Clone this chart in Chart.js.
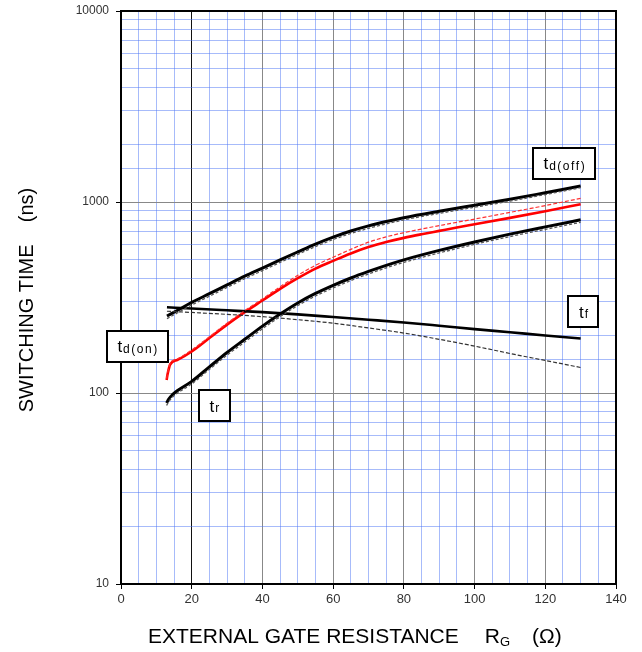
<!DOCTYPE html>
<html><head><meta charset="utf-8">
<script src="https://cdn.jsdelivr.net/npm/chart.js@4.4.1/dist/chart.umd.min.js"></script>
<style>html,body{margin:0;padding:0;background:#fff}canvas{display:block}</style>
</head><body>
<canvas id="c" width="642" height="652"></canvas>
<script>
// ---- data ----
const tdOffX = [13,16,20,25,30,35,40,45,50,55,60,65,70,75,80,90,100,110,120,130];
const tdOffSolid = [253,271,298,331,368,409,451,498,548,602,655,705,750,790,828,895,962,1033,1118,1212];
const tdOffDash  = [245,263,289,321,357,397,437,483,532,584,636,684,728,768,806,872,939,1010,1094,1188];

const tdOnX = [12.9,13.2,13.9,16,20,25,30,35,40,45,50,55,60,65,70,75,80,85,90,95,100,110,120,130];
const tdOnSolid = [117,126,141,149,165,194,228,265,305,351,399,448,492,538,581,617,649,678,706,735,764,826,895,973];
const tdOnDashX = [12.9,13.2,13.9,16,20,25,30,35,40,45,50,55,60,65,70,75,80,85,90,95,100,110,120,130];
const tdOnDash  = [119,128,143,151,168,197,232,270,311,360,413,466,514,565,616,657,691,722,752,783,814,882,958,1045];

const trX = [12.9,13.5,14.5,16,20,25,30,35,40,45,50,55,60,65,70,75,80,90,100,110,120,130];
const trSolid = [88.7,93,97.7,103,115,137,163,191,224,259,296,332,366,400,433,466,498,558,618,679,741,807];
const trDash  = [86,90.2,94.8,100,111.5,133,158,185,217,251,287,322,355,388,420,452,483,541,600,659,719,783];

const tfX = [13,20,30,40,50,60,70,80,90,100,110,120,130];
const tfSolid = [281,277,271,265,258,250,242,234,225,216,208,200,193];
const tfDash  = [268,264,258,251,242,232,219,206,191,176,161,148,136];

const xTickLabels = [0,20,40,60,80,100,120,140];
const yTickLabels = [10,100,1000,10000];

// curve labels: main letter, subscript, anchor in data units
const labelMain = ['t','t','t','t'];
const labelSub  = ['d(off)','d(on)','r','f'];
const labelX    = [125.3, 4.6, 26.4, 130.8];
const labelY    = [1591, 176, 86, 267];

// ---- helpers ----
const pts = (xs, ys) => xs.map((x,i)=>({x, y: ys[i]}));
const FONT = "'Liberation Sans', Arial, sans-serif";

const datasets = [
  {data: pts(tdOffX, tdOffDash), borderColor:'#555', borderWidth:1.3, borderDash:[3,2]},
  {data: pts(trX, trDash), borderColor:'#555', borderWidth:1.3, borderDash:[3,2]},
  {data: pts(tfX, tfDash), borderColor:'#333', borderWidth:1.2, borderDash:[4,2]},
  {data: pts(tdOnDashX, tdOnDash), borderColor:'#ff3030', borderWidth:1.2, borderDash:[4,2]},
  {data: pts(tdOffX, tdOffSolid), borderColor:'#000', borderWidth:3},
  {data: pts(trX, trSolid), borderColor:'#000', borderWidth:3},
  {data: pts(tfX, tfSolid), borderColor:'#000', borderWidth:2.6},
  {data: pts(tdOnX, tdOnSolid), borderColor:'#ff0000', borderWidth:2.6},
];

const BLUE = 'rgba(80,120,245,0.5)';
const isMajorLog = v => { const l = Math.log10(v); return Math.abs(l - Math.round(l)) < 1e-9; };

const overlay = {
  id:'overlay',
  afterDatasetsDraw(chart){
    const {ctx, chartArea:a, scales:{x,y}} = chart;
    ctx.save();
    // frame
    ctx.strokeStyle = '#000'; ctx.lineWidth = 2;
    ctx.strokeRect(a.left, a.top, a.right - a.left, a.bottom - a.top);
    // label boxes
    for (let i=0;i<labelMain.length;i++){
      const cx = x.getPixelForValue(labelX[i]);
      const cy = y.getPixelForValue(labelY[i]);
      ctx.font = '17px ' + FONT;
      const mw = ctx.measureText(labelMain[i]).width;
      ctx.font = '12px ' + FONT;
      const chars = labelSub[i].split('');
      const sp = 1.5;
      let sw = 0; chars.forEach(c=> sw += ctx.measureText(c).width + sp); sw -= sp;
      const tw = mw + 1 + sw;
      const w = Math.round(tw + 21), h = 31;
      const bx = Math.round(cx - w/2), by = Math.round(cy - h/2);
      ctx.fillStyle = '#fff';
      ctx.fillRect(bx, by, w, h);
      ctx.strokeStyle = '#000'; ctx.lineWidth = 2;
      ctx.strokeRect(bx, by, w, h);
      ctx.fillStyle = '#000';
      ctx.textBaseline = 'alphabetic'; ctx.textAlign = 'left';
      let tx = cx - tw/2;
      const base = cy + 6;
      ctx.font = '17px ' + FONT;
      ctx.fillText(labelMain[i], tx, base);
      tx += mw + 1;
      ctx.font = '12px ' + FONT;
      chars.forEach(c=>{ ctx.fillText(c, tx, base + 0.5); tx += ctx.measureText(c).width + sp; });
    }
    // axis titles
    ctx.fillStyle = '#000';
    ctx.textBaseline = 'middle';
    // x title
    let px = 148; const py = 637;
    ctx.font = '21px ' + FONT; ctx.textAlign = 'left';
    const t1 = 'EXTERNAL GATE RESISTANCE';
    ctx.fillText(t1, px, py);
    px += ctx.measureText(t1).width + 26;
    ctx.fillText('R', px, py);
    px += ctx.measureText('R').width;
    ctx.font = '13px ' + FONT;
    ctx.fillText('G', px, py + 5);
    px += ctx.measureText('G').width + 22;
    ctx.font = '21px ' + FONT;
    ctx.fillText('(\u03A9)', px, py);
    // y title
    ctx.font = '20px ' + FONT;
    ctx.translate(27, 300);
    ctx.rotate(-Math.PI/2);
    ctx.textAlign = 'center';
    ctx.fillText('SWITCHING TIME    (ns)', 0, 0);
    ctx.restore();
  }
};

new Chart(document.getElementById('c'), {
  type:'line',
  data:{datasets},
  plugins:[overlay],
  options:{
    responsive:false, animation:false,
    layout:{padding:{left:0, right:26, top:11, bottom:0}},
    plugins:{legend:{display:false}, tooltip:{enabled:false}},
    elements:{point:{radius:0}, line:{cubicInterpolationMode:'monotone', fill:false}},
    scales:{
      x:{
        type:'linear', min:0, max:140,
        afterBuildTicks: s => { const t=[]; for(let v=0; v<=140; v+=5) t.push({value:v}); s.ticks = t; },
        ticks:{autoSkip:false, maxRotation:0, padding:3, color:'#333',
          font:{family:FONT, size:13},
          callback: v => xTickLabels.includes(v) ? String(v) : ''},
        grid:{lineWidth:1, tickLength:5,
          color: c => (c.tick && c.tick.value % 20 === 0) ? (c.tick.value === 20 ? '#111' : '#888') : BLUE,
          tickColor: c => (c.tick && c.tick.value % 20 === 0) ? '#000' : 'rgba(0,0,0,0)'},
        border:{display:true, color:'#000', width:2},
        afterFit: s => { s.height = 68; s.paddingLeft = 0; s.paddingRight = 0; }
      },
      y:{
        type:'logarithmic', min:10, max:10000,
        ticks:{autoSkip:false, padding:7, color:'#333',
          font:{family:FONT, size:12},
          callback: v => yTickLabels.includes(Math.round(v)) && isMajorLog(v) ? String(Math.round(v)) : ''},
        grid:{lineWidth:1, tickLength:5,
          color: c => (c.tick && isMajorLog(c.tick.value)) ? '#888' : BLUE,
          tickColor: c => (c.tick && isMajorLog(c.tick.value)) ? '#000' : 'rgba(0,0,0,0)'},
        border:{display:true, color:'#000', width:2},
        afterFit: s => { s.width = 121; s.paddingTop = 0; s.paddingBottom = 0; }
      }
    }
  }
});
</script>
</body></html>
